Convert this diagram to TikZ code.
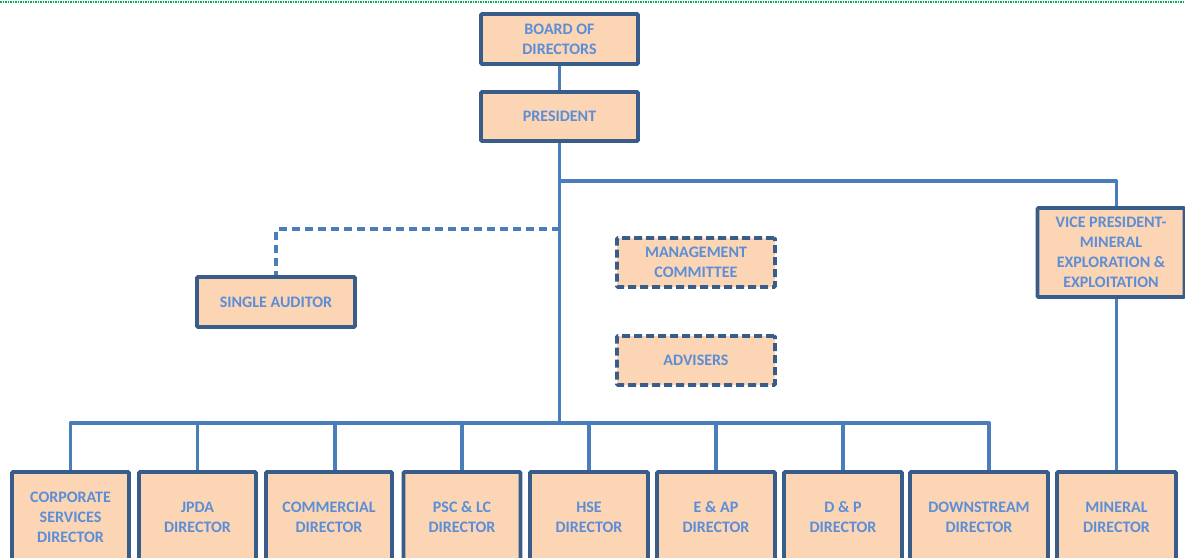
\documentclass[tikz,border=0pt]{standalone}
\usepackage{fontspec}
\setmainfont{Carlito}

\begin{document}
\begin{tikzpicture}[x=1pt,y=-1pt,
  box/.style={draw=boxline,fill=peach,line width=3.8,rounded corners=1,text=label,
    font=\bfseries\fontsize{16}{20}\selectfont,align=center,inner sep=0,minimum height=50},
  dashbox/.style={box,dash pattern=on 8pt off 4pt},
  link/.style={draw=wire,line width=3.4,line join=round},
  dashlink/.style={link,dash pattern=on 8pt off 5pt}]
\definecolor{peach}{HTML}{FCD5B5}
\definecolor{boxline}{HTML}{385D8A}
\definecolor{wire}{HTML}{4A7EBB}
\definecolor{label}{HTML}{5B8ED6}
\definecolor{pagegreen}{HTML}{00B050}
\useasboundingbox (0,0) rectangle (1185,557);
\clip (0,0) rectangle (1185,557);
\draw[pagegreen,line width=2.2,dash pattern=on 1.5pt off 1pt] (0,2) -- (1185,2);
\node[box,minimum width=157] (board) at (559.5,39) {BOARD OF\\DIRECTORS};
\node[box,minimum width=157,minimum height=49] (pres) at (559.5,116.5) {PRESIDENT};
\node[box,minimum width=158] (audit) at (276,302) {SINGLE AUDITOR};
\node[dashbox,minimum width=158,minimum height=49] (mgmt) at (696,262.5) {MANAGEMENT\\COMMITTEE};
\node[dashbox,minimum width=158,minimum height=49] (advis) at (696,360.5) {ADVISERS};
\node[box,minimum width=147,minimum height=89] (vp) at (1111,252.5) {VICE PRESIDENT-\\MINERAL\\EXPLORATION \&\\EXPLOITATION};
  \foreach \nm/\pos/\bw/\txt in {corp/70.5/117/{CORPORATE\\SERVICES\\DIRECTOR},
    jpda/197.5/117/{JPDA\\DIRECTOR},comm/329/126/{COMMERCIAL\\DIRECTOR},
    psc/462/117/{PSC \& LC\\DIRECTOR},hse/589/118/{HSE\\DIRECTOR},
    eap/716/118/{E \& AP\\DIRECTOR},dp/843/118/{D \& P\\DIRECTOR},
    down/979/138/{DOWNSTREAM\\DIRECTOR},mineral/1116.5/119/{MINERAL\\DIRECTOR}}
  {  \node [box,minimum width=\bw,minimum height=90] (\nm) at (\pos,517) {\txt};}
\coordinate (fork) at (559.5,181);
\coordinate (tap) at (559.5,229);
\coordinate (bus) at (559.5,423);
\draw[link] (board) -- (pres);
\draw[link] (pres) -- (bus);
\draw[link] (fork) -| (mineral.north |- vp.north);
\draw[link] (vp.south -| mineral.north) -- (mineral.north);
\draw[dashlink] (tap) -| (audit.north);
  \foreach \nm in {corp,jpda,psc,hse,eap,dp}
  {  \draw[link] (\nm.north) |- (bus);}
\draw[link] ([xshift=6]comm.north) |- (bus);
\draw[link] ([xshift=10]down.north) |- (bus);
\end{tikzpicture}
\end{document}
